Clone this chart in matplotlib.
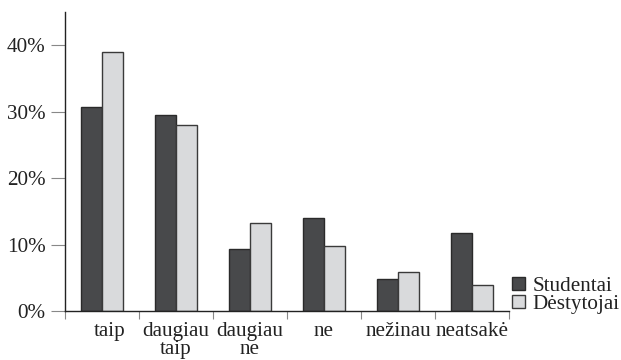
import matplotlib
matplotlib.use("Agg")
import matplotlib.pyplot as plt
import matplotlib.transforms as mtransforms
import numpy as np
from matplotlib.ticker import FixedLocator, PercentFormatter

plt.rcParams['font.family'] = ['Liberation Serif', 'DejaVu Serif']

categories = ["taip", "daugiau\ntaip", "daugiau\nne", "ne", "nežinau", "neatsakė"]
studentai = [30.7, 29.5, 9.3, 14.0, 4.8, 11.8]
destytojai = [39.0, 28.0, 13.2, 9.8, 5.8, 3.9]
series_names = ["Studentai", "Dėstytojai"]
y_ticks = [0, 10, 20, 30, 40]

fs = 15.2
W, H = 621, 360

fig = plt.figure(figsize=(W / 100, H / 100), dpi=100)
ax = fig.add_axes([65 / W, 49 / H, 444 / W, 299 / H])

x = np.arange(len(categories))
w = 0.29
ax.bar(x - w / 2, studentai, w, color="#48494b", edgecolor="#2a2a2a", linewidth=1.0,
       label=series_names[0])
ax.bar(x + w / 2, destytojai, w, color="#d9dadc", edgecolor="#3a3a3a", linewidth=1.0,
       label=series_names[1])

ax.set_xlim(-0.5, len(categories) - 0.5)
ax.set_ylim(0, 45)

for s in ("top", "right"):
    ax.spines[s].set_visible(False)
ax.spines["left"].set_color("#222222")
ax.spines["bottom"].set_color("#222222")
ax.spines["left"].set_linewidth(1.0)
ax.spines["bottom"].set_linewidth(1.0)

ax.set_yticks(y_ticks)
ax.yaxis.set_major_formatter(PercentFormatter(decimals=0))
ax.tick_params(axis="y", length=10, width=0.8, color="#888888", labelsize=fs, pad=4,
               labelcolor="#222222")

ax.set_xticks(x)
ax.set_xticklabels(categories, va="top", linespacing=0.9)
ax.tick_params(axis="x", which="major", length=0, labelsize=fs, pad=8, labelcolor="#222222")
ax.xaxis.set_minor_locator(FixedLocator(np.arange(len(categories) + 1) - 0.5))
ax.tick_params(axis="x", which="minor", length=6, width=0.8, color="#888888")

# the first category label sits a little right of its group centre
first = ax.get_xticklabels()[0]
first.set_transform(first.get_transform() +
                    mtransforms.ScaledTranslation(8 / 100, 0, fig.dpi_scale_trans))

leg = fig.legend(*ax.get_legend_handles_labels(), loc="lower left",
                 bbox_to_anchor=(512 / W, (H - 314) / H), bbox_transform=fig.transFigure,
                 frameon=False, fontsize=fs, handlelength=0.62, handleheight=0.62,
                 handletextpad=0.35, labelspacing=-0.05, borderpad=0.0, borderaxespad=0.0)
for t in leg.get_texts():
    t.set_color("#222222")

fig.savefig("out.png", dpi=100)
